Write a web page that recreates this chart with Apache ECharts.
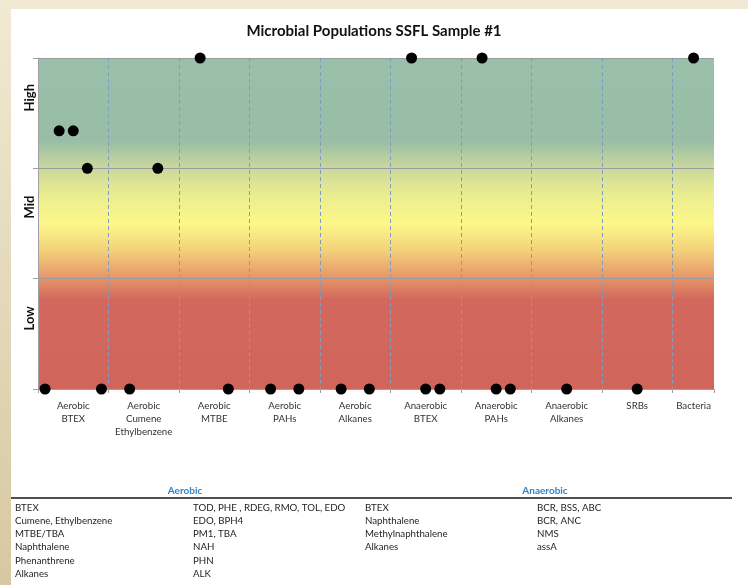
<!DOCTYPE html>
<html>
<head>
<meta charset="utf-8">
<script src="https://cdn.jsdelivr.net/npm/echarts@6/dist/echarts.min.js"></script>
<style>
html,body{margin:0;padding:0;background:#fff;}
#chart{width:748px;height:585px;}
</style>
</head>
<body>
<div id="chart"></div>
<script>
// ---- data ----
const title = 'Microbial Populations SSFL Sample #1';
const categories = ['Aerobic\nBTEX', 'Aerobic\nCumene\nEthylbenzene', 'Aerobic\nMTBE', 'Aerobic\nPAHs', 'Aerobic\nAlkanes',
  'Anaerobic\nBTEX', 'Anaerobic\nPAHs', 'Anaerobic\nAlkanes', 'SRBs', 'Bacteria'];
const categoryPos = [0.5, 1.5, 2.5, 3.5, 4.5, 5.5, 6.5, 7.5, 8.5, 9.3];
const levelLabels = ['Low', 'Mid', 'High'];
const levelPos = [0.64, 1.65, 2.64];
const pointX = [0.1, 0.3, 0.5, 0.7, 0.9, 1.3, 1.7, 2.3, 2.7, 3.3, 3.7, 4.3, 4.7, 5.3, 5.5, 5.7, 6.3, 6.5, 6.7, 7.5, 8.5, 9.3];
const pointY = [0, 2.34, 2.34, 2.0, 0, 0, 2.0, 3, 0, 0, 0, 0, 0, 3, 0, 0, 3, 0, 0, 0, 0, 3];
const aerobicTargets = ['BTEX', 'Cumene, Ethylbenzene', 'MTBE/TBA', 'Naphthalene', 'Phenanthrene', 'Alkanes'];
const aerobicGenes = ['TOD, PHE , RDEG, RMO, TOL, EDO', 'EDO, BPH4', 'PM1, TBA', 'NAH', 'PHN', 'ALK'];
const anaerobicTargets = ['BTEX', 'Naphthalene', 'Methylnaphthalene', 'Alkanes'];
const anaerobicGenes = ['BCR, BSS, ABC', 'BCR, ANC', 'NMS', 'assA'];

const FONT = 'Lato, "Open Sans", sans-serif';
const chart = echarts.init(document.getElementById('chart'), null, {renderer: 'canvas'});

const graphics = [
  {type: 'rect', z: -10, shape: {x: 0, y: 0, width: 748, height: 9},
   style: {fill: '#f1e9d3'}},
  {type: 'rect', z: -10, shape: {x: 0, y: 0, width: 11, height: 585},
   style: {fill: {type: 'linear', x: 0, y: 0, x2: 0, y2: 1,
     colorStops: [{offset: 0, color: '#f1e9d3'}, {offset: 1, color: '#d6c8a1'}]}}},
  {type: 'line', shape: {x1: 11, y1: 498, x2: 732, y2: 498}, style: {stroke: '#505050', lineWidth: 2.2}},
  {type: 'text', style: {text: 'Aerobic', x: 185, y: 491, align: 'center', verticalAlign: 'middle',
    font: 'bold 10px ' + FONT, fill: '#2f84c6'}},
  {type: 'text', style: {text: 'Anaerobic', x: 545, y: 491, align: 'center', verticalAlign: 'middle',
    font: 'bold 10px ' + FONT, fill: '#2f84c6'}}
];
const rowY0 = 508, rowH = 13.1;
function addCol(arr, x) {
  arr.forEach((t, i) => graphics.push({type: 'text', style: {text: t, x: x, y: rowY0 + i * rowH,
    align: 'left', verticalAlign: 'middle', font: '9.7px ' + FONT, fill: '#1e1e1e'}}));
}
addCol(aerobicTargets, 15);
addCol(aerobicGenes, 193);
addCol(anaerobicTargets, 365);
addCol(anaerobicGenes, 537);

const option = {
  animation: false,
  backgroundColor: '#ffffff',
  title: {text: title, left: 'center', top: 19,
    textStyle: {fontFamily: FONT, fontSize: 15, fontWeight: 'bold', color: '#111'}},
  grid: {left: 38, right: 34, top: 58, bottom: 196, show: true, borderWidth: 0,
    backgroundColor: {type: 'linear', x: 0, y: 0, x2: 0, y2: 1, colorStops: [
      {offset: 0, color: '#9abfaa'},
      {offset: 0.25, color: '#98bea7'},
      {offset: 0.33, color: '#c9d79c'},
      {offset: 0.42, color: '#ecef8f'},
      {offset: 0.50, color: '#fbf78a'},
      {offset: 0.58, color: '#f3d27a'},
      {offset: 0.66, color: '#e8986a'},
      {offset: 0.73, color: '#d2685e'},
      {offset: 1, color: '#d0655c'}]}},
  xAxis: {
    type: 'value', min: 0, max: 9.59, interval: 1,
    axisLine: {show: true, lineStyle: {color: '#a0a0a0'}},
    axisTick: {show: true, length: 4, lineStyle: {color: '#a0a0a0'}},
    splitLine: {show: true, showMinLine: false, showMaxLine: false,
      lineStyle: {color: '#7f9dc2', type: [4, 3], width: 1}},
    axisLabel: {customValues: categoryPos, margin: 10, fontFamily: FONT, fontSize: 9.7, color: '#333', lineHeight: 13,
      formatter: function (v) { const i = categoryPos.indexOf(v); return i >= 0 ? categories[i] : ''; }}
  },
  yAxis: {
    type: 'value', min: 0, max: 3, interval: 1,
    axisLine: {show: true, lineStyle: {color: '#a0a0a0'}},
    axisTick: {show: true, length: 5, lineStyle: {color: '#a0a0a0'}},
    splitLine: {show: true, lineStyle: {color: '#9c9c9c', width: 1}},
    axisLabel: {customValues: levelPos, rotate: 90, margin: 2, fontFamily: FONT, fontSize: 13, fontWeight: 'bold', color: '#111',
      formatter: function (v) { const i = levelPos.indexOf(v); return i >= 0 ? levelLabels[i] : ''; }}
  },
  series: [{
    type: 'scatter', clip: false, symbol: 'circle', symbolSize: 11,
    itemStyle: {color: '#000', opacity: 1},
    data: pointX.map((x, i) => [x, pointY[i]])
  }],
  graphic: graphics
};
chart.setOption(option);
</script>
</body>
</html>
